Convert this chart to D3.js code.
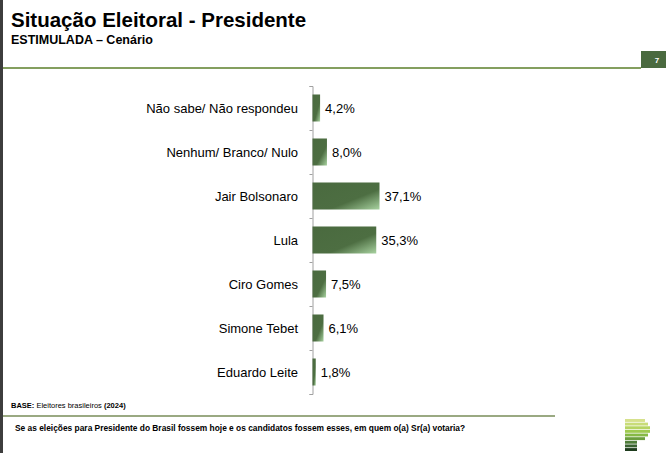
<!DOCTYPE html>
<html>
<head>
<meta charset="utf-8">
<script src="https://cdn.jsdelivr.net/npm/d3@7"></script>
<style>
  html, body { margin: 0; padding: 0; background: #fff; }
  svg { display: block; font-family: "Liberation Sans", Arial, sans-serif; }
</style>
</head>
<body>
<div id="chart"></div>
<script>
// Situação Eleitoral - Presidente, cenário estimulado (values in %)
const categories = [
  "Não sabe/ Não respondeu",
  "Nenhum/ Branco/ Nulo",
  "Jair Bolsonaro",
  "Lula",
  "Ciro Gomes",
  "Simone Tebet",
  "Eduardo Leite"
];
const values = [4.2, 8.0, 37.1, 35.3, 7.5, 6.1, 1.8];
const valueLabels = ["4,2%", "8,0%", "37,1%", "35,3%", "7,5%", "6,1%", "1,8%"];

// decorative logo stripes (relative widths, colours), top to bottom
const logoWidths = [20, 23, 25, 25, 23, 20, 12, 12, 12];
const logoColors = ["#d6e18c", "#c9dc79", "#b6d462", "#9fca4f", "#86b944", "#6c9f3d", "#4f7d3a", "#3a6231", "#1e3c1d"];

const W = 666, H = 453;
const svg = d3.select("#chart").append("svg")
  .attr("width", W).attr("height", H).attr("viewBox", `0 0 ${W} ${H}`);

// bar gradient: dark green with a light corner at bottom-right
const grad = svg.append("defs").append("linearGradient")
  .attr("id", "barGrad").attr("x1", 0).attr("y1", 0).attr("x2", 1).attr("y2", 1);
grad.append("stop").attr("offset", "0").attr("stop-color", "#4a6a3f");
grad.append("stop").attr("offset", "0.62").attr("stop-color", "#4d6e42");
grad.append("stop").attr("offset", "1").attr("stop-color", "#a8d2a0");

// --- slide frame ---
svg.append("rect").attr("x", 0).attr("y", 0).attr("width", 3).attr("height", H).attr("fill", "#3d3d3d");
svg.append("text").attr("x", 11).attr("y", 27)
  .style("font-size", "20.5px").style("font-weight", "bold").attr("fill", "#000")
  .text("Situação Eleitoral - Presidente");
svg.append("text").attr("x", 11).attr("y", 44)
  .style("font-size", "12.5px").style("font-weight", "bold").attr("fill", "#000")
  .text("ESTIMULADA – Cenário");
svg.append("line").attr("x1", 3).attr("x2", 641).attr("y1", 68).attr("y2", 68)
  .attr("stroke", "#5b7f2a").attr("stroke-width", 1.5);
svg.append("rect").attr("x", 641).attr("y", 51).attr("width", 25).attr("height", 17).attr("fill", "#4a6a3f");
svg.append("text").attr("x", 657).attr("y", 63).attr("text-anchor", "middle")
  .style("font-size", "8px").style("font-weight", "bold").attr("fill", "#fff").text("7");

// --- chart ---
const yTop = 86, yBottom = 394, x0 = 312.5;
const y = d3.scaleBand().domain(categories).range([yTop, yBottom])
  .paddingInner(0.386).paddingOuter(0.193);
const x = d3.scaleLinear().domain([0, 100]).range([x0, x0 + 180.6]);

// category axis: vertical line with small ticks between categories
const yEdges = d3.scaleLinear().domain([0, categories.length]).range([yTop, yBottom]);
svg.append("g").attr("transform", `translate(${x0},0)`)
  .call(d3.axisLeft(yEdges).ticks(categories.length).tickSize(3).tickFormat(""))
  .call(g => g.selectAll("path, line").attr("stroke", "#a0a0a0"));

svg.selectAll("rect.bar").data(values).enter().append("rect").attr("class", "bar")
  .attr("x", x(0)).attr("y", (d, i) => y(categories[i]))
  .attr("width", d => x(d) - x(0)).attr("height", y.bandwidth())
  .attr("fill", "url(#barGrad)");

svg.selectAll("text.cat").data(categories).enter().append("text").attr("class", "cat")
  .attr("x", 298).attr("y", d => y(d) + y.bandwidth() / 2).attr("dy", "0.36em")
  .attr("text-anchor", "end").style("font-size", "13px").attr("fill", "#000")
  .text(d => d);

svg.selectAll("text.val").data(values).enter().append("text").attr("class", "val")
  .attr("x", d => x(d) + 5).attr("y", (d, i) => y(categories[i]) + y.bandwidth() / 2).attr("dy", "0.36em")
  .style("font-size", "13px").attr("fill", "#000")
  .text((d, i) => valueLabels[i]);

// --- footer ---
const base = svg.append("text").attr("x", 11).attr("y", 408).style("font-size", "7.5px").attr("fill", "#000");
base.append("tspan").style("font-weight", "bold").text("BASE: ");
base.append("tspan").text("Eleitores brasileiros ");
base.append("tspan").style("font-weight", "bold").text("(2024)");
svg.append("line").attr("x1", 3).attr("x2", 555).attr("y1", 416).attr("y2", 416)
  .attr("stroke", "#9aa982").attr("stroke-width", 2);
svg.append("text").attr("x", 15).attr("y", 431)
  .style("font-size", "8.4px").style("font-weight", "bold").attr("fill", "#000")
  .text("Se as eleições para Presidente do Brasil fossem hoje e os candidatos fossem esses, em quem o(a) Sr(a) votaria?");

const logoY = d3.scaleBand().domain(d3.range(logoWidths.length)).range([419, 451]).paddingInner(0.2);
svg.selectAll("rect.logo").data(logoWidths).enter().append("rect").attr("class", "logo")
  .attr("x", 625).attr("y", (d, i) => logoY(i))
  .attr("width", d => d).attr("height", logoY.bandwidth())
  .attr("fill", (d, i) => logoColors[i]);
</script>
</body>
</html>
